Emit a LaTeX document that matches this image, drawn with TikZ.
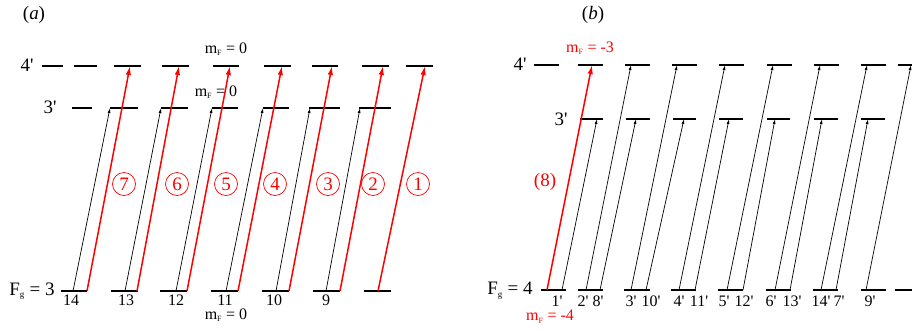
\documentclass[tikz,border=0pt]{standalone}
\usepackage{fontspec}
\setmainfont{Liberation Serif}
\usetikzlibrary{arrows.meta}
\newcommand{\myp}{\textquotesingle}
\begin{document}
\begin{tikzpicture}[x=1pt,y=-1pt,
  lev/.style={line width=1.7pt},
  redarr/.style={draw=red, line width=1.5pt, -{Latex[length=9pt,width=5.5pt]}},
  blkarr/.style={draw=black, line width=0.7pt, -{Latex[length=5pt,width=3pt]}},
  lbl/.style={inner sep=0pt, font=\fontsize{16}{18}\selectfont},
  biglbl/.style={inner sep=0pt, font=\fontsize{19}{21}\selectfont},
  circ/.style={circle, draw=red, text=red, line width=0.7pt, minimum size=23pt, inner sep=0pt, font=\fontsize{19}{20}\selectfont}]
\useasboundingbox (0,0) rectangle (912,330);

% ---------------- panel (a) ----------------
\node[biglbl] (pa) at (34,15) {(\textit{a})};
\node[biglbl] (a4) at (27,65) {4\myp};
\node[biglbl] (a3) at (50,107) {3\myp};
\node[biglbl] (ag) at (32,291) {F\textsubscript{\fontsize{9}{9}\selectfont g} = 3};
\node[lbl] (amt) at (226,49) {m\textsubscript{\fontsize{8}{8}\selectfont F} = 0};
\node[lbl] (amm) at (216,92) {m\textsubscript{\fontsize{8}{8}\selectfont F} = 0};
\node[lbl] (amb) at (226,315) {m\textsubscript{\fontsize{8}{8}\selectfont F} = 0};

\foreach \a/\b in {42/63,74/97,114/141,162/189,213/239,264/291,312/338,362/389,406/433}
  \draw[lev] (\a,66) -- (\b,66);
\foreach \a/\b in {72/92,110/138,161/188,212/238,263/289,309/340,359/391}
  \draw[lev] (\a,108) -- (\b,108);
\foreach \a/\b in {61/87,111/138,160/187,211/238,262/289,313/340,364/391}
  \draw[lev] (\a,291) -- (\b,291);

\foreach \i/\xb/\xt in {1/87/130,2/137/179,3/187/230,4/238/282,5/289/332,6/340/383,7/378/425}{
  \coordinate (ra\i b) at (\xb,291);
  \coordinate (ra\i t) at (\xt,66);
  \draw[redarr] (ra\i b) -- (ra\i t);
}
\foreach \i/\xb/\xt in {1/73/110,2/125/161,3/176/212,4/226/263,5/276/310,6/326/360}{
  \coordinate (ba\i b) at (\xb,291);
  \coordinate (ba\i t) at (\xt,108);
  \draw[blkarr] (ba\i b) -- (ba\i t);
}
\foreach \t/\x in {14/71,13/126,12/176,11/225,10/274,9/326}
  \node[lbl] (al\t) at (\x,300) {\t};

\foreach \n/\x in {7/124,6/177,5/226,4/275,3/328,2/373,1/418}
  \node[circ] (c\n) at (\x,184) {\n};

% ---------------- panel (b) ----------------
\node[biglbl] (pb) at (593,15) {(\textit{b})};
\node[biglbl] (b4) at (520,64) {4\myp};
\node[biglbl] (b3) at (561,119) {3\myp};
\node[biglbl] (bg) at (510,291) {F\textsubscript{\fontsize{9}{9}\selectfont g} = 4};
\node[lbl,text=red] (bmt) at (590,48) {m\textsubscript{\fontsize{8}{8}\selectfont F} = -3};
\node[lbl,text=red] (bmb) at (550,317) {m\textsubscript{\fontsize{8}{8}\selectfont F} = -4};
\node[biglbl,text=red] (b8) at (545,182) {(8)};

\foreach \a/\b in {534/559,578/603,625/650,672/697,719/744,767/792,814/839,861/886,898/914}
  \draw[lev] (\a,65) -- (\b,65);
\foreach \a/\b in {580/603,626/650,673/696,719/743,767/790,814/838,861/885}
  \draw[lev] (\a,119) -- (\b,119);
\foreach \a/\b in {541/566,578/603,624/650,671/696,718/743,766/791,813/838,861/886,895/914}
  \draw[lev] (\a,290) -- (\b,290);

\coordinate (rbb) at (547,290);
\coordinate (rbt) at (592,65);
\draw[redarr] (rbb) -- (rbt);
\foreach \i/\xb/\xt in {1/562/597,2/600/636,3/646/684,4/695/729,5/743/775,6/790/822,7/836/868}{
  \coordinate (sb\i b) at (\xb,290);
  \coordinate (sb\i t) at (\xt,119);
  \draw[blkarr] (sb\i b) -- (sb\i t);
}
\foreach \i/\xb/\xt in {1/586/631,2/631/677,3/679/725,4/727/773,5/775/820,6/821/867,7/866/911}{
  \coordinate (lb\i b) at (\xb,290);
  \coordinate (lb\i t) at (\xt,65);
  \draw[blkarr] (lb\i b) -- (lb\i t);
}
\foreach \i/\t/\x in {1/1/557,2/2/583,3/8/598,4/3/631,5/10/651,6/4/679,7/11/699,8/5/724,9/12/744,10/6/771,11/13/792,12/14/821,13/7/839,14/9/870}
  \node[lbl] (bl\i) at (\x,301) {\t\myp};
\end{tikzpicture}
\end{document}
